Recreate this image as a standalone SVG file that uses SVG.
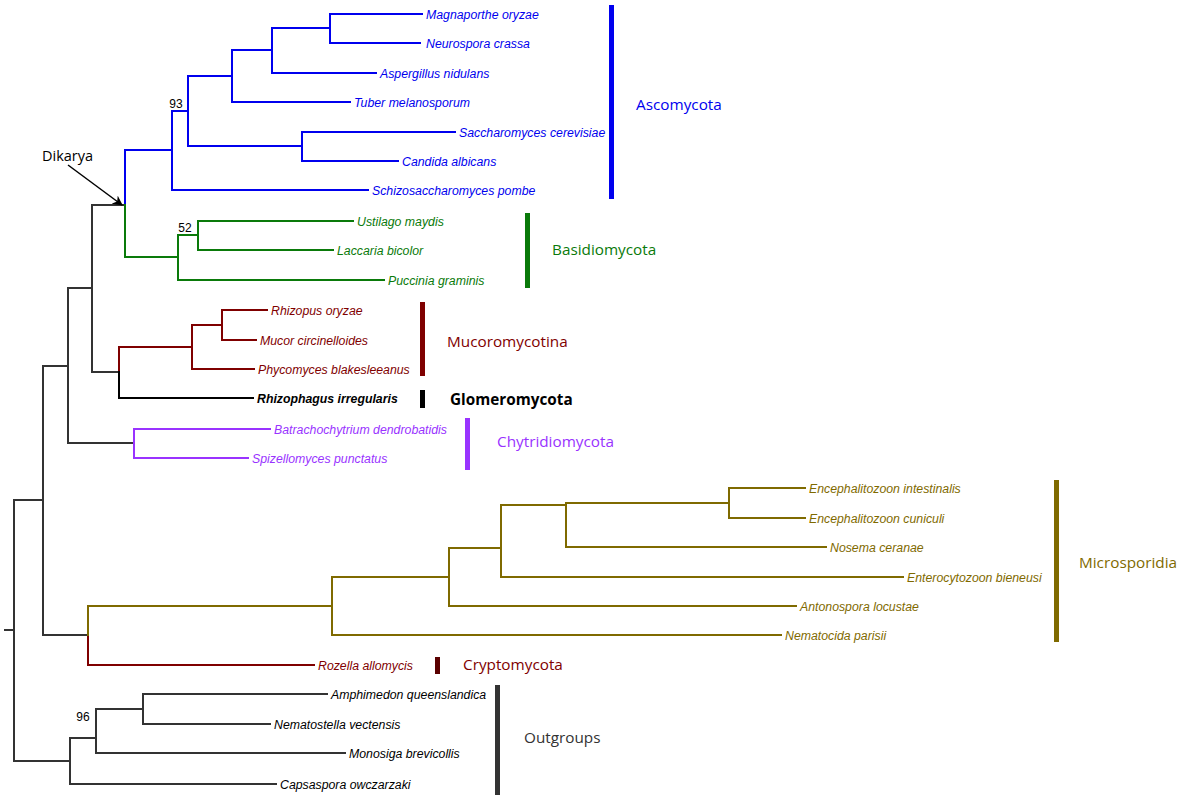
<svg xmlns="http://www.w3.org/2000/svg" width="1185" height="800" viewBox="0 0 1185 800">
<style>
.b{fill:none;stroke-width:2;stroke-linecap:square}
.sp{font-family:"Liberation Sans",Arial,sans-serif;font-style:italic;font-size:12.3px}
.grp{font-family:"Open Sans","Liberation Sans",sans-serif;font-size:15.3px}
.bs{font-family:"Liberation Sans",Arial,sans-serif;font-size:12px}
.A{stroke:#0000ee}.Af{fill:#0000ee}
.G{stroke:#0a7a0a}.Gf{fill:#0a7a0a}
.M{stroke:#7f0000}.Mf{fill:#7f0000}
.P{stroke:#9933ff}.Pf{fill:#9933ff}
.O{stroke:#7f6a00}.Of{fill:#7f6a00}
.K{stroke:#333}.Kf{fill:#333}
</style>
<defs><marker id="ar" markerWidth="10" markerHeight="10" refX="9" refY="5" orient="auto" markerUnits="userSpaceOnUse"><path d="M0,0 L10,5 L0,10 L3,5 z" fill="#000"/></marker></defs>
<g id="connectors">
<path class="b K" d="M5,630H14M14,500V761M14,500H43M14,761H70M43,366V635M43,366H68M43,635H88M68,288V443M68,288H92M68,443H134M92,205V372M92,205H125M92,372H119"/>
<path class="b A" d="M125,150V205M125,150H172M172,111V190M172,111H188M172,190H368M188,76V146M188,76H232M188,146H302M232,50V102M232,50H272M232,102H350M272,28V73M272,28H330M272,73H376M330,14V43M330,14H422M330,43H420M302,132V161M302,132H455M302,161H398"/>
<path class="b G" d="M125,205V257M125,257H178M178,235V280M178,235H198M178,280H384M198,221V250M198,221H353M198,250H333"/>
<path class="b M" d="M119,347V372M119,347H192M192,325V369M192,325H222M192,369H254M222,310V340M222,310H267M222,340H256M88,635V665M88,665H314"/>
<path class="b" stroke="#000" d="M119,372V398M119,398H253"/>
<path class="b P" d="M134,429V458M134,429H270M134,458H248"/>
<path class="b O" d="M88,606V635M88,606H332M332,577V635M332,577H449M332,635H781M449,548V606M449,548H501M449,606H796M501,505V577M501,505H566M501,577H903M566,503V547M566,503H729M566,547H826M729,488V518M729,488H805M729,518H805"/>
<path class="b K" d="M70,738V784M70,738H96M70,784H276M96,709V753M96,709H143M96,753H345M143,694V724M143,694H327M143,724H270"/>
<path d="M68,165L122,205" stroke="#000" stroke-width="1.5" fill="none" marker-end="url(#ar)"/>
</g>
<g id="leaves">
<g class="sp Af">
<text x="426" y="19">Magnaporthe oryzae</text><text x="426" y="48">Neurospora  crassa</text><text x="380" y="78">Aspergillus nidulans</text><text x="354" y="107">Tuber melanosporum</text><text x="459" y="137">Saccharomyces cerevisiae</text><text x="402" y="166">Candida albicans</text><text x="372" y="195">Schizosaccharomyces pombe</text></g>
<g class="sp Gf"><text x="357" y="226">Ustilago maydis</text><text x="337" y="255">Laccaria bicolor</text><text x="388" y="285">Puccinia graminis</text></g>
<g class="sp Mf"><text x="271" y="315">Rhizopus oryzae</text><text x="260" y="345">Mucor circinelloides</text><text x="258" y="374">Phycomyces blakesleeanus</text><text x="318" y="670">Rozella allomycis</text></g>
<text class="sp" x="257" y="403" font-weight="bold">Rhizophagus irregularis</text>
<g class="sp Pf"><text x="274" y="434">Batrachochytrium dendrobatidis</text><text x="252" y="463">Spizellomyces punctatus</text></g>
<g class="sp Of"><text x="809" y="493">Encephalitozoon intestinalis</text><text x="809" y="523">Encephalitozoon cuniculi</text><text x="830" y="552">Nosema ceranae</text><text x="907" y="582">Enterocytozoon bieneusi</text><text x="800" y="611">Antonospora locustae</text><text x="785" y="640">Nematocida parisii</text></g>
<g class="sp"><text x="331" y="699">Amphimedon queenslandica</text><text x="274" y="729">Nematostella vectensis</text><text x="349" y="758">Monosiga brevicollis</text><text x="280" y="789">Capsaspora owczarzaki</text></g>
</g>
<g id="support" class="bs"><text x="176" y="108" text-anchor="middle">93</text><text x="185" y="232" text-anchor="middle">52</text><text x="83" y="721" text-anchor="middle">96</text><text x="42" y="161" font-family="Open Sans,sans-serif" font-size="14.5" font-style="normal">Dikarya</text></g>
<g id="groups">
<rect class="Af" x="609" y="5" width="5" height="194"/><text class="grp Af" x="636" y="110">Ascomycota</text>
<rect class="Gf" x="525" y="213" width="5" height="75"/><text class="grp Gf" x="552" y="255">Basidiomycota</text>
<rect class="Mf" x="420" y="302" width="5" height="74"/><text class="grp Mf" x="447" y="347">Mucoromycotina</text>
<rect x="420" y="390" width="5" height="18"/><text class="grp" x="450" y="405" font-weight="bold">Glomeromycota</text>
<rect class="Pf" x="465" y="418" width="5" height="52"/><text class="grp Pf" x="497" y="447">Chytridiomycota</text>
<rect class="Of" x="1054" y="480" width="5" height="162"/><text class="grp Of" x="1079" y="568">Microsporidia</text>
<rect x="435" y="657" width="5" height="17" fill="#5a0000"/><text class="grp Mf" x="463" y="670">Cryptomycota</text>
<rect class="Kf" x="495" y="685" width="5" height="110"/><text class="grp Kf" x="524" y="743">Outgroups</text>
</g>
</svg>
